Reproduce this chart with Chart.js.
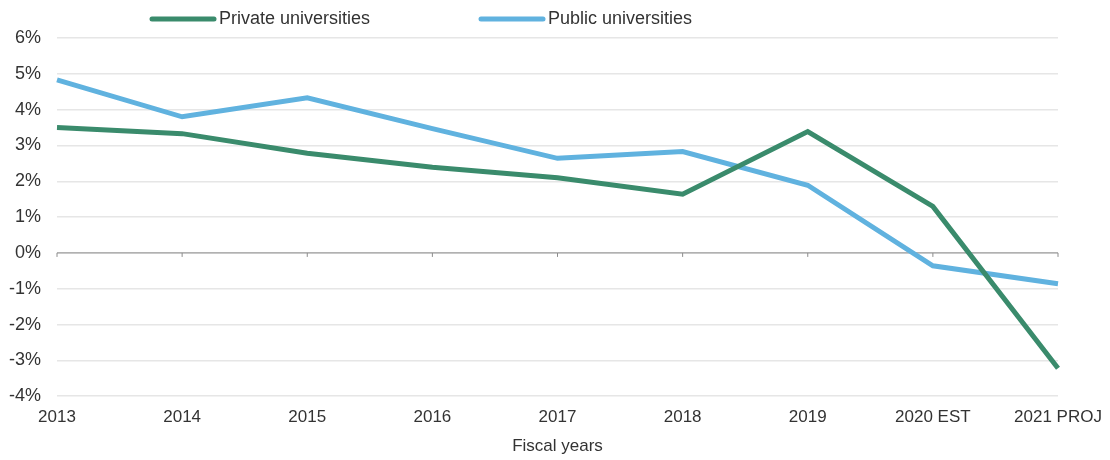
<!DOCTYPE html>
<html>
<head>
<meta charset="utf-8">
<script src="https://cdn.jsdelivr.net/npm/chart.js@4.4.1/dist/chart.umd.min.js"></script>
<style>
  html, body { margin: 0; padding: 0; background: #fff; }
  #wrap { width: 1110px; height: 460px; }
</style>
</head>
<body>
<div id="wrap"><canvas id="growth"></canvas></div>
<script>
// fiscal years and annual growth (%)
const years = ['2013', '2014', '2015', '2016', '2017', '2018', '2019', '2020 EST', '2021 PROJ'];
const privateUniversities = [3.5, 3.33, 2.78, 2.39, 2.1, 1.64, 3.39, 1.3, -3.22];
const publicUniversities = [4.83, 3.8, 4.33, 3.47, 2.64, 2.83, 1.89, -0.36, -0.86];
const yMin = -4, yMax = 6;

const green = '#3a8b6c';
const blue = '#60b2df';
const textColor = '#333333';

Chart.defaults.font.family = 'Arial, "Liberation Sans", sans-serif';
Chart.defaults.font.size = 18;
Chart.defaults.color = textColor;

// legend sits left of centre in the original, so draw it by hand
const topLegend = {
    id: 'topLegend',
    afterDraw(chart) {
        const ctx = chart.ctx;
        const items = [
            { x: 152, label: 'Private universities', color: green },
            { x: 481, label: 'Public universities', color: blue }
        ];
        ctx.save();
        ctx.font = '18px Arial, "Liberation Sans", sans-serif';
        ctx.textBaseline = 'middle';
        items.forEach(function (it) {
            ctx.strokeStyle = it.color;
            ctx.lineWidth = 5;
            ctx.lineCap = 'round';
            ctx.beginPath();
            ctx.moveTo(it.x, 19);
            ctx.lineTo(it.x + 62, 19);
            ctx.stroke();
            ctx.fillStyle = textColor;
            ctx.fillText(it.label, it.x + 67, 19);
        });
        ctx.restore();
    }
};

// small tick marks hanging below the zero line
const zeroTicks = {
    id: 'zeroTicks',
    beforeDatasetsDraw(chart) {
        const ctx = chart.ctx;
        const x = chart.scales.x, y = chart.scales.y;
        const y0 = y.getPixelForValue(0);
        ctx.save();
        ctx.strokeStyle = '#8c8c8c';
        ctx.lineWidth = 1;
        ctx.beginPath();
        ctx.moveTo(chart.chartArea.left, y0);
        ctx.lineTo(chart.chartArea.right, y0);
        years.forEach(function (_, i) {
            const px = x.getPixelForValue(i);
            ctx.moveTo(px, y0);
            ctx.lineTo(px, y0 + 4);
        });
        ctx.stroke();
        ctx.restore();
    }
};

new Chart(document.getElementById('growth').getContext('2d'), {
    type: 'line',
    data: {
        labels: years,
        datasets: [
            {
                label: 'Private universities',
                data: privateUniversities,
                borderColor: green,
                backgroundColor: green,
                borderWidth: 5,
                pointRadius: 0,
                tension: 0
            },
            {
                label: 'Public universities',
                data: publicUniversities,
                borderColor: blue,
                backgroundColor: blue,
                borderWidth: 5,
                pointRadius: 0,
                tension: 0
            }
        ]
    },
    plugins: [topLegend, zeroTicks],
    options: {
        responsive: true,
        maintainAspectRatio: false,
        animation: false,
        layout: {
            padding: { top: 38, right: 52, left: 9, bottom: 3 }
        },
        scales: {
            x: {
                offset: false,
                grid: { display: false, drawTicks: false },
                border: { display: false },
                afterFit: function (scale) { scale.paddingRight = 0; },
                ticks: { padding: 11, maxRotation: 0, autoSkip: false, font: { size: 17 } },
                title: {
                    display: true,
                    text: 'Fiscal years',
                    font: { size: 17 },
                    padding: { top: -2, bottom: 0 }
                }
            },
            y: {
                min: yMin,
                max: yMax,
                grid: { color: '#e6e6e6', lineWidth: 1.5, drawTicks: false },
                border: { display: false },
                afterFit: function (scale) { scale.width = 48; },
                ticks: {
                    stepSize: 1,
                    padding: 16,
                    callback: function (value) { return value + '%'; }
                }
            }
        },
        plugins: {
            legend: { display: false },
            tooltip: { enabled: false }
        }
    }
});
</script>
</body>
</html>
